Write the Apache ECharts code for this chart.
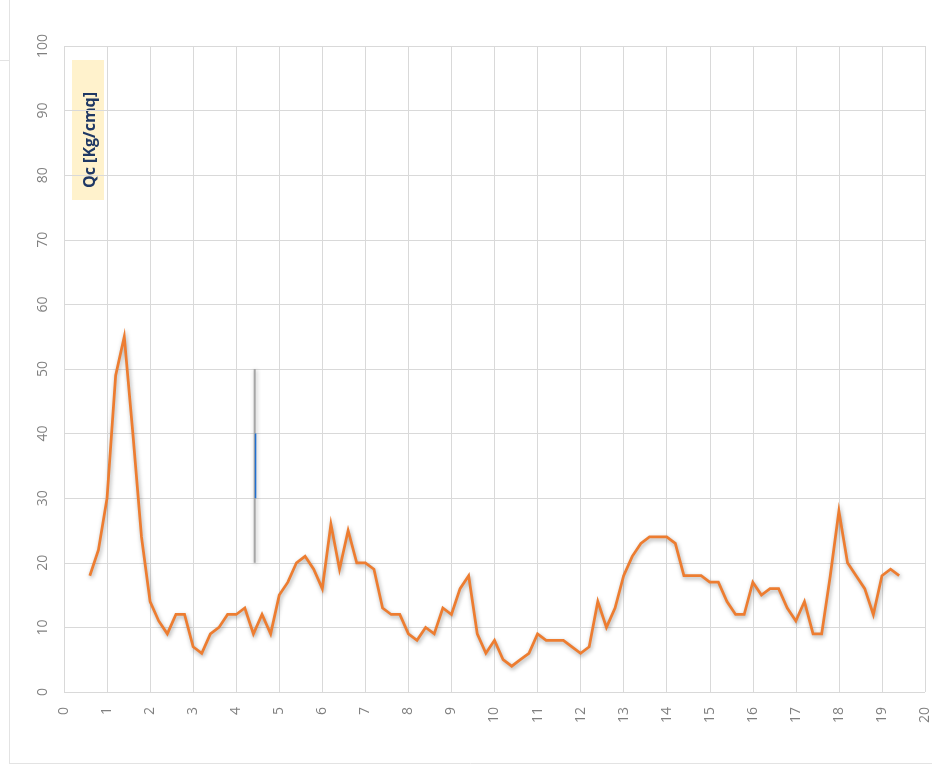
<!DOCTYPE html>
<html>
<head>
<meta charset="utf-8">
<script src="https://cdn.jsdelivr.net/npm/echarts@6/dist/echarts.min.js"></script>
<style>
html,body{margin:0;padding:0;background:#fff;}
#c{width:932px;height:764px;}
</style>
</head>
<body>
<div id="c"></div>
<script>
// depth (m)
const depths = [0.6,0.8,1.0,1.2,1.4,1.6,1.8,2.0,2.2,2.4,2.6,2.8,3.0,3.2,3.4,3.6,3.8,4.0,4.2,4.4,4.6,4.8,
  5.0,5.2,5.4,5.6,5.8,6.0,6.2,6.4,6.6,6.8,7.0,7.2,7.4,7.6,7.8,8.0,8.2,8.4,8.6,8.8,9.0,9.2,9.4,9.6,9.8,
  10.0,10.2,10.4,10.6,10.8,11.0,11.2,11.4,11.6,11.8,12.0,12.2,12.4,12.6,12.8,13.0,13.2,13.4,13.6,13.8,
  14.0,14.2,14.4,14.6,14.8,15.0,15.2,15.4,15.6,15.8,16.0,16.2,16.4,16.6,16.8,17.0,17.2,17.4,17.6,17.8,
  18.0,18.2,18.4,18.6,18.8,19.0,19.2,19.4];
// Qc values
const qc = [18,22,30,49,55,40,24,14,11,9,12,12,7,6,9,10,12,12,13,9,12,9,
  15,17,20,21,19,16,26,19,25,20,20,19,13,12,12,9,8,10,9,13,12,16,18,9,6,
  8,5,4,5,6,9,8,8,8,7,6,7,14,10,13,18,21,23,24,24,
  24,23,18,18,18,17,17,14,12,12,17,15,16,16,13,11,14,9,9,18,
  28,20,18,16,12,18,19,18];
// reference bars
const greyBarX = [4.43,4.43];
const greyBarY = [20,50];
const blueBarX = [4.45,4.45];
const blueBarY = [30,40];
const legendText = 'Qc [Kg/cmq]';

const chart = echarts.init(document.getElementById('c'), null, {renderer:'canvas'});
const lab = {color:'#808080', fontSize:14, fontFamily:'Open Sans', rotate:90};
chart.setOption({
  animation:false,
  backgroundColor:'#fff',
  grid:{left:64, top:46, right:4, bottom:72, containLabel:false},
  xAxis:{type:'value', min:0, max:20, interval:1,
    axisLine:{show:false}, axisTick:{show:false},
    axisLabel:Object.assign({margin:15}, lab),
    splitLine:{show:true, lineStyle:{color:'#d9d9d9', width:1}}},
  yAxis:{type:'value', min:0, max:100, interval:10,
    axisLine:{show:false}, axisTick:{show:false},
    axisLabel:Object.assign({margin:14, align:'center', verticalAlign:'bottom'}, lab),
    splitLine:{show:true, lineStyle:{color:'#d9d9d9', width:1}}},
  series:[
    {type:'line', data:greyBarX.map((x,i)=>[x,greyBarY[i]]), symbol:'none',
      lineStyle:{color:'#a6a6a6', width:2, shadowBlur:4, shadowColor:'rgba(0,0,0,0.3)', shadowOffsetX:1, shadowOffsetY:1}},
    {type:'line', data:blueBarX.map((x,i)=>[x,blueBarY[i]]), symbol:'none',
      lineStyle:{color:'#1f6fd0', width:1.5}},
    {type:'line', data:depths.map((d,i)=>[d,qc[i]]), symbol:'none',
      lineStyle:{color:'#ed7d31', width:2.75, join:'miter', shadowBlur:4, shadowColor:'rgba(0,0,0,0.35)', shadowOffsetX:1, shadowOffsetY:2}}
  ],
  graphic:[
    {type:'line', shape:{x1:9.5,y1:0,x2:9.5,y2:764}, style:{stroke:'#e3e3e3', lineWidth:1}},
    {type:'line', shape:{x1:0,y1:60.5,x2:9,y2:60.5}, style:{stroke:'#e3e3e3', lineWidth:1}},
    {type:'line', shape:{x1:9,y1:763.5,x2:932,y2:763.5}, style:{stroke:'#e3e3e3', lineWidth:1}},
    {type:'rect', shape:{x:72, y:60, width:32, height:140}, style:{fill:'#fff2cc'}},
    {type:'text', x:90, y:140, rotation:Math.PI/2,
      style:{text:legendText, fill:'#1f3864', font:'bold 16px "Open Sans"', align:'center', verticalAlign:'middle'}}
  ]
});
</script>
</body>
</html>
